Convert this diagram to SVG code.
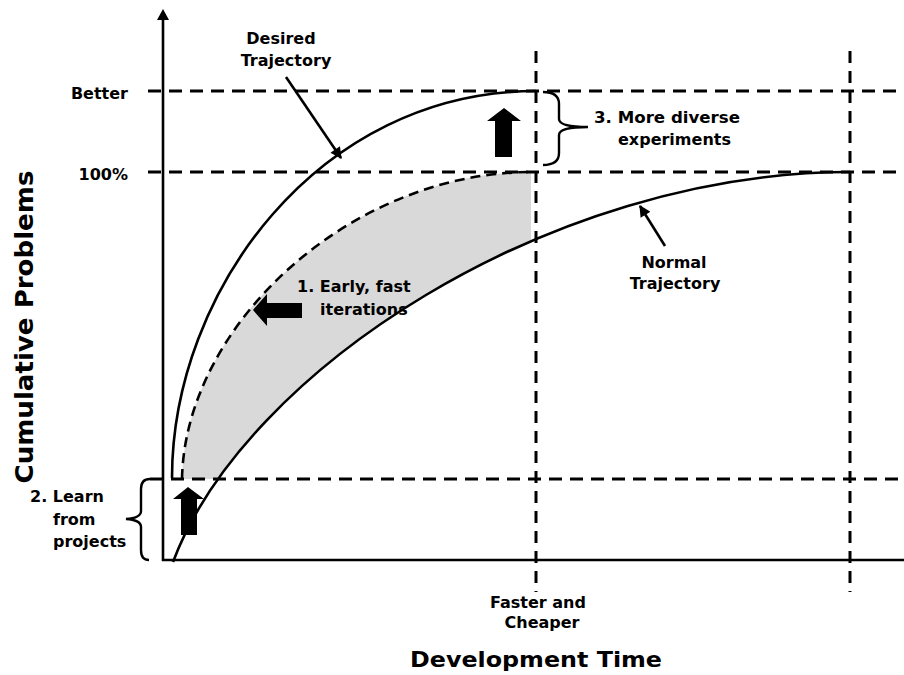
<svg xmlns="http://www.w3.org/2000/svg" width="904" height="675" viewBox="0 0 904 675">
  <style>
    text { font-family: "DejaVu Sans", Verdana, sans-serif; font-weight: bold; fill: #000; }
    .lbl { font-size: 16px; }
    .axis { stroke: #000; stroke-width: 2.6; fill: none; }
    .curve { stroke: #000; stroke-width: 2.6; fill: none; }
    .hdash { stroke: #000; stroke-width: 3; stroke-dasharray: 13 8; fill: none; }
    .vdash { stroke: #000; stroke-width: 3; stroke-dasharray: 12 8; fill: none; }
    .brace { stroke: #000; stroke-width: 2.4; fill: none; }
    .block { fill: #000; }
    .ptr { stroke: #000; stroke-width: 2.6; fill: none; marker-end: url(#head); }
  </style>
  <defs>
    <marker id="head" viewBox="0 0 10 10" refX="9" refY="5" markerWidth="5" markerHeight="4.4" orient="auto">
      <path d="M0,0 L10,5 L0,10 z" fill="#000"/>
    </marker>
  </defs>

  <rect width="904" height="675" fill="#fff"/>

  <!-- shaded gain between the improved and the normal trajectory -->
  <g id="gain-band">
    <path d="M182,479 C185,325 350,172 531,172 L531,479 Z" fill="#d9d9d9"/>
    <path d="M173,562 C245,370 550,172 850,172 L850,562 L173,562 Z" fill="#fff"/>
  </g>

  <!-- reference lines -->
  <g id="grid">
    <line class="hdash" x1="148" y1="91" x2="900" y2="91"/>
    <line class="hdash" x1="148" y1="172" x2="900" y2="172"/>
    <line class="hdash" x1="150" y1="479" x2="900" y2="479"/>
    <line class="vdash" x1="536" y1="51" x2="536" y2="592"/>
    <line class="vdash" x1="850" y1="51" x2="850" y2="592"/>
  </g>

  <!-- axes -->
  <g id="axes">
    <line class="axis" x1="163" y1="18" x2="163" y2="561"/>
    <polygon points="163,9 169,20 157,20" fill="#000"/>
    <line class="axis" x1="162" y1="560" x2="904" y2="560"/>
  </g>

  <!-- trajectories -->
  <g id="desired-curve">
    <path class="curve" d="M172,478 C172,292 318,91 536,91"/>
  </g>
  <g id="improved-curve">
    <path class="curve" stroke-dasharray="10 6" d="M182,479 C185,325 350,172 532,172"/>
  </g>
  <g id="normal-curve">
    <path class="curve" d="M173,562 C245,370 550,172 850,172"/>
  </g>

  <!-- block arrows -->
  <g id="arrow-learn">
    <polygon class="block" points="188,487 204,499 197,499 197,535 181,535 181,499 173,499"/>
  </g>
  <g id="arrow-diverse">
    <polygon class="block" points="504,108 521,121 512,121 512,157 495,157 495,121 487,121"/>
  </g>
  <g id="arrow-early">
    <polygon class="block" points="253,310 267,294 267,303 302,303 302,318 267,318 267,326"/>
  </g>

  <!-- braces -->
  <g id="brace-learn">
    <path class="brace" d="M150,479 Q141,479 141,489 L141,511 Q141,518 126,519 Q141,520 141,527 L141,550 Q141,560 149,560"/>
  </g>
  <g id="brace-diverse">
    <path class="brace" d="M543,92 Q559,92 559,104 L559,119 Q559,127 588,127 Q559,127 559,135 L559,153 Q559,165 543,165"/>
  </g>

  <!-- pointer connectors -->
  <g id="connectors">
    <line class="ptr" x1="286" y1="77" x2="341" y2="158"/>
    <line class="ptr" x1="665" y1="246" x2="640" y2="206"/>
  </g>

  <!-- labels -->
  <g id="label-better"><text class="lbl" x="128" y="99" text-anchor="end">Better</text></g>
  <g id="label-100"><text class="lbl" x="128" y="180" text-anchor="end">100%</text></g>
  <g id="label-desired">
    <text class="lbl" x="281" y="44" text-anchor="middle">Desired</text>
    <text class="lbl" x="286" y="66" text-anchor="middle">Trajectory</text>
  </g>
  <g id="label-normal">
    <text class="lbl" x="674" y="268" text-anchor="middle">Normal</text>
    <text class="lbl" x="675" y="289" text-anchor="middle">Trajectory</text>
  </g>
  <g id="label-early">
    <text class="lbl" x="297" y="292">1. Early, fast</text>
    <text class="lbl" x="320" y="315">iterations</text>
  </g>
  <g id="label-learn">
    <text class="lbl" x="30" y="502">2. Learn</text>
    <text class="lbl" x="53" y="525">from</text>
    <text class="lbl" x="53" y="547">projects</text>
  </g>
  <g id="label-diverse">
    <text class="lbl" x="594" y="123" textLength="146" lengthAdjust="spacingAndGlyphs">3. More diverse</text>
    <text class="lbl" x="618" y="145">experiments</text>
  </g>
  <g id="label-faster">
    <text class="lbl" x="538" y="608" text-anchor="middle">Faster and</text>
    <text class="lbl" x="542" y="628" text-anchor="middle">Cheaper</text>
  </g>
  <g id="label-x">
    <text x="536" y="667" text-anchor="middle" font-size="22" textLength="252" lengthAdjust="spacingAndGlyphs">Development Time</text>
  </g>
  <g id="label-y">
    <text transform="translate(33,327) rotate(-90)" text-anchor="middle" font-size="24" textLength="313" lengthAdjust="spacingAndGlyphs">Cumulative Problems</text>
  </g>
</svg>
